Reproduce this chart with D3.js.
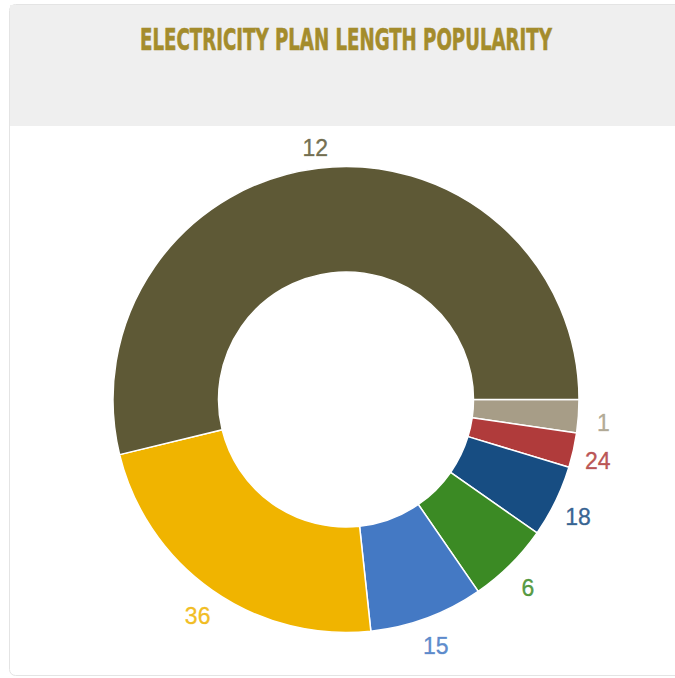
<!DOCTYPE html>
<html>
<head>
<meta charset="utf-8">
<script src="https://cdn.jsdelivr.net/npm/d3@7"></script>
<style>
  html, body { margin: 0; padding: 0; background: #ffffff; }
  svg { display: block; }
</style>
</head>
<body>
<svg id="chart" width="675" height="678"></svg>
<script>
// Plan lengths (months) and their share of plans, drawn clockwise from 3 o'clock
const planLengths = ["1", "24", "18", "6", "15", "36", "12"];
const planShares  = [2.3, 2.4, 5.0, 5.7, 7.9, 22.9, 53.8];
const planColors  = ["#a79d87", "#b03b3b", "#174d82", "#3b8a24", "#4479c4", "#f0b400", "#5e5936"];
const titleText = "ELECTRICITY PLAN LENGTH POPULARITY";

const width = 675, height = 678;
const svg = d3.select("#chart");

// Card with a grey header band
svg.append("rect")
  .attr("x", 9.5).attr("y", 4.5)
  .attr("width", 700).attr("height", 671)
  .attr("rx", 6)
  .attr("fill", "#ffffff")
  .attr("stroke", "#e4e4e4");
svg.append("rect")
  .attr("x", 10).attr("y", 5)
  .attr("width", 700).attr("height", 121)
  .attr("fill", "#efefef");

// Condensed heading, squeezed horizontally to its column width
const titleWidth = 412, titleX = 346, titleY = 50;
const title = svg.append("text")
  .attr("x", 0).attr("y", 0)
  .attr("text-anchor", "middle")
  .attr("font-family", "'Liberation Sans Narrow', 'DejaVu Sans Condensed', sans-serif")
  .attr("font-weight", "bold")
  .attr("font-size", 30)
  .attr("fill", "#a48c2c")
  .attr("stroke", "#a48c2c")
  .attr("stroke-width", 0.6)
  .text(titleText);
const natural = title.node().getComputedTextLength();
title.attr("transform", `translate(${titleX},${titleY}) scale(${titleWidth / natural},1)`);

// Donut
const cx = 346, cy = 399.5;
const outerR = 233, innerR = 127.5, labelR = 258;

const pie = d3.pie()
  .sort(null)
  .value(d => d.share)
  .startAngle(Math.PI / 2)
  .endAngle(Math.PI / 2 + 2 * Math.PI);

const data = planLengths.map((p, i) => ({ plan: p, share: planShares[i], color: planColors[i] }));
const arcs = pie(data);

const arc = d3.arc().innerRadius(innerR).outerRadius(outerR);
const labelArc = d3.arc().innerRadius(labelR).outerRadius(labelR);

const g = svg.append("g").attr("transform", `translate(${cx},${cy})`);

g.selectAll("path.slice")
  .data(arcs)
  .join("path")
  .attr("class", "slice")
  .attr("d", arc)
  .attr("fill", d => d.data.color)
  .attr("stroke", "#ffffff")
  .attr("stroke-width", 1.5)
  .attr("stroke-linejoin", "round");

g.selectAll("text.label")
  .data(arcs)
  .join("text")
  .attr("class", "label")
  .attr("transform", d => {
    const [x, y] = labelArc.centroid(d);
    return `translate(${x},${y + 5})`;
  })
  .attr("text-anchor", "middle")
  .attr("dominant-baseline", "central")
  .attr("font-family", "'Liberation Sans', Arial, sans-serif")
  .attr("font-size", 23)
  .attr("fill", d => d.data.color)
  .attr("fill-opacity", 0.85)
  .attr("stroke", d => d.data.color)
  .attr("stroke-opacity", 0.6)
  .attr("stroke-width", 0.5)
  .text(d => d.data.plan);
</script>
</body>
</html>
